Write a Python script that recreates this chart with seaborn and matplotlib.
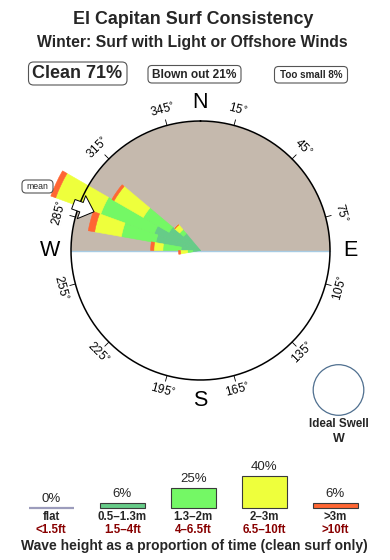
import numpy as np
import pandas as pd
import matplotlib
matplotlib.use("Agg")
import matplotlib.pyplot as plt
import seaborn as sns
from matplotlib.patches import FancyBboxPatch, Circle

# ---------------- data ----------------
title = "El Capitan Surf Consistency"
subtitle = "Winter: Surf with Light or Offshore Winds"
clean_pct = 71
blown_pct = 21
small_pct = 8

# swell directions (deg) and stacked band lengths (in units of compass radius)
directions = [265, 275, 285, 295, 305, 315]
band_05_13 = [0.06, 0.15, 0.35, 0.38, 0.28, 0.17]
band_13_2 = [0.04, 0.14, 0.27, 0.44, 0.23, 0.04]
band_2_3 = [0.055, 0.07, 0.21, 0.37, 0.26, 0.05]
band_3_up = [0.015, 0.025, 0.05, 0.04, 0.02, 0.0]
mean_direction = 290
ideal_swell = "W"

compass_ticks = [15, 45, 75, 105, 135, 165, 195, 225, 255, 285, 315, 345]
cardinals = ["N", "E", "S", "W"]
cardinal_deg = [0, 90, 180, 270]

height_cats = ["flat", "0.5\u20131.3m", "1.3\u20132m", "2\u20133m", ">3m"]
height_feet = ["<1.5ft", "1.5\u20134ft", "4\u20136.5ft", "6.5\u201310ft", ">10ft"]
height_pct = [0, 6, 25, 40, 6]

# ---------------- style ----------------
TAN = "#C5B9AD"
C_TEAL = "#66CC88"
C_GREEN = "#74F865"
C_YELLOW = "#EEFF3C"
C_ORANGE = "#FF6633"
FLAT = "#9C9CBC"
DARKRED = "#880000"

sns.set_theme(style="white")
plt.rcParams["font.family"] = ["Liberation Sans", "DejaVu Sans"]

W, H = 390, 560
fig = plt.figure(figsize=(3.9, 5.6), dpi=100)

# ---------------- compass rose (polar) ----------------
cx, cy, Rpx = 200.5, 250.5, 129.5
rmax = 1.32
rp = Rpx * rmax
axp = fig.add_axes([(cx - rp) / W, (H - cy - rp) / H, 2 * rp / W, 2 * rp / H],
                   projection="polar")
axp.set_theta_zero_location("N")
axp.set_theta_direction(-1)
axp.set_ylim(0, rmax)
axp.set_axis_off()

t = np.linspace(-np.pi / 2, np.pi / 2, 300)
axp.fill_between(t, 0, 1, color=TAN, lw=0, zorder=1)
axp.plot([np.pi / 2, np.pi / 2], [0, 1], color="#A8CCE4", lw=1.0, zorder=2)
axp.plot([3 * np.pi / 2, 3 * np.pi / 2], [0, 1], color="#A8CCE4", lw=1.0, zorder=2)

theta = np.deg2rad(directions)
width = np.deg2rad(10.0)
bottom = np.zeros(len(directions))
for vals, col in zip([band_05_13, band_13_2, band_2_3, band_3_up],
                     [C_TEAL, C_GREEN, C_YELLOW, C_ORANGE]):
    vals = np.array(vals)
    axp.bar(theta, vals, width=width, bottom=bottom, color=col,
            edgecolor=col, linewidth=0.4, zorder=3)
    bottom = bottom + vals

circ_t = np.linspace(0, 2 * np.pi, 400)
axp.plot(circ_t, np.ones_like(circ_t), color="black", lw=1.1, zorder=4)

for b in compass_ticks:
    tb = np.deg2rad(b)
    axp.plot([tb, tb], [1.0, 1.045], color="black", lw=0.6, zorder=4)
    rot = (-b) % 360
    if 90 < rot < 270:
        rot -= 180
    axp.text(tb, 1.12, f"{b}$^{{\\circ}}$", rotation=rot, rotation_mode="anchor",
             ha="center", va="center", fontsize=8.5, color="black")

for lab, d in zip(cardinals, cardinal_deg):
    rr = 1.145 if lab == "N" else 1.16
    axp.text(np.deg2rad(d), rr, lab, ha="center", va="center", fontsize=15.5, color="black")

tm = np.deg2rad(mean_direction)
axp.annotate("", xy=(tm, 0.875), xytext=(tm, 1.045),
             arrowprops=dict(arrowstyle="simple,head_length=0.6,head_width=1.1,tail_width=0.45",
                             fc="white", ec="black", lw=0.7, mutation_scale=16,
                             shrinkA=0, shrinkB=0), zorder=5)

# ---------------- overlay (texts / boxes) ----------------
ax0 = fig.add_axes([0, 0, 1, 1])
ax0.set_xlim(0, W)
ax0.set_ylim(H, 0)
ax0.set_axis_off()
ax0.patch.set_alpha(0)

ax0.text(193.5, 19, title, ha="center", va="center", fontsize=12.9, weight="bold")
ax0.text(192, 42, subtitle, ha="center", va="center", fontsize=11.3, weight="bold")


def rbox(x0, y0, x1, y1, r=4):
    ax0.add_patch(FancyBboxPatch((x0 + r, y0 + r), x1 - x0 - 2 * r, y1 - y0 - 2 * r,
                                 boxstyle=f"round,pad={r}", fc="white", ec="#555555", lw=0.8))


rbox(28.5, 62, 127, 85, 5)
ax0.text(77.5, 74, f"Clean {clean_pct}%", ha="center", va="center", fontsize=13, weight="bold")
rbox(148, 65.5, 241, 83)
ax0.text(194.5, 74.5, f"Blown out {blown_pct}%", ha="center", va="center", fontsize=8.6, weight="bold")
rbox(274.5, 66.5, 347.5, 83)
ax0.text(311, 75, f"Too small {small_pct}%", ha="center", va="center", fontsize=7.1, weight="bold")

rbox(22, 180, 53, 193, 4)
ax0.text(37.5, 186.5, "mean", ha="center", va="center", fontsize=6.3)

ax0.add_patch(Circle((338.5, 390), 25.3, fc="none", ec="#4F6F8F", lw=0.9))
ax0.text(338.5, 424, "Ideal Swell", ha="center", va="center", fontsize=8.4, weight="bold")
ax0.text(338.5, 438.5, ideal_swell, ha="center", va="center", fontsize=9, weight="bold")

ax0.text(194, 546, "Wave height as a proportion of time (clean surf only)",
         ha="center", va="center", fontsize=10, weight="bold")

# ---------------- wave-height bars (seaborn) ----------------
base_y = 508
unit_h = 0.8  # px per percent
span = 71.0
x_left = 51.3 - span / 2
axb_h = 50 * unit_h
axb = fig.add_axes([x_left / W, (H - base_y) / H, 5 * span / W, axb_h / H])
df = pd.DataFrame({"cat": height_cats, "pct": height_pct})
sns.barplot(data=df, x="cat", y="pct", hue="cat",
            palette=[FLAT, C_TEAL, C_GREEN, C_YELLOW, C_ORANGE],
            legend=False, width=0.634, ax=axb, saturation=1)
axb.set_xlim(-0.5, 4.5)
axb.set_ylim(0, 50)
axb.set_axis_off()
for i, p in enumerate(axb.patches):
    p.set_clip_on(False)
    if height_pct[i] == 0:
        p.set_edgecolor(FLAT)
        p.set_linewidth(1.6)
    else:
        p.set_edgecolor("#3A3A3A")
        p.set_linewidth(0.8)

for i, v in enumerate(height_pct):
    axb.annotate(f"{v}%", xy=(i, v), xytext=(0, 9.5 * 0.72), textcoords="offset points",
                 ha="center", va="center", fontsize=9.5, annotation_clip=False)
    axb.annotate(height_cats[i], xy=(i, 0), xytext=(0, -8.5 * 0.72), textcoords="offset points",
                 ha="center", va="center", fontsize=8.3, weight="bold", annotation_clip=False)
    axb.annotate(height_feet[i], xy=(i, 0), xytext=(0, -22 * 0.72), textcoords="offset points",
                 ha="center", va="center", fontsize=8.3, weight="bold", color=DARKRED,
                 annotation_clip=False)

fig.savefig("out.png", dpi=100)
